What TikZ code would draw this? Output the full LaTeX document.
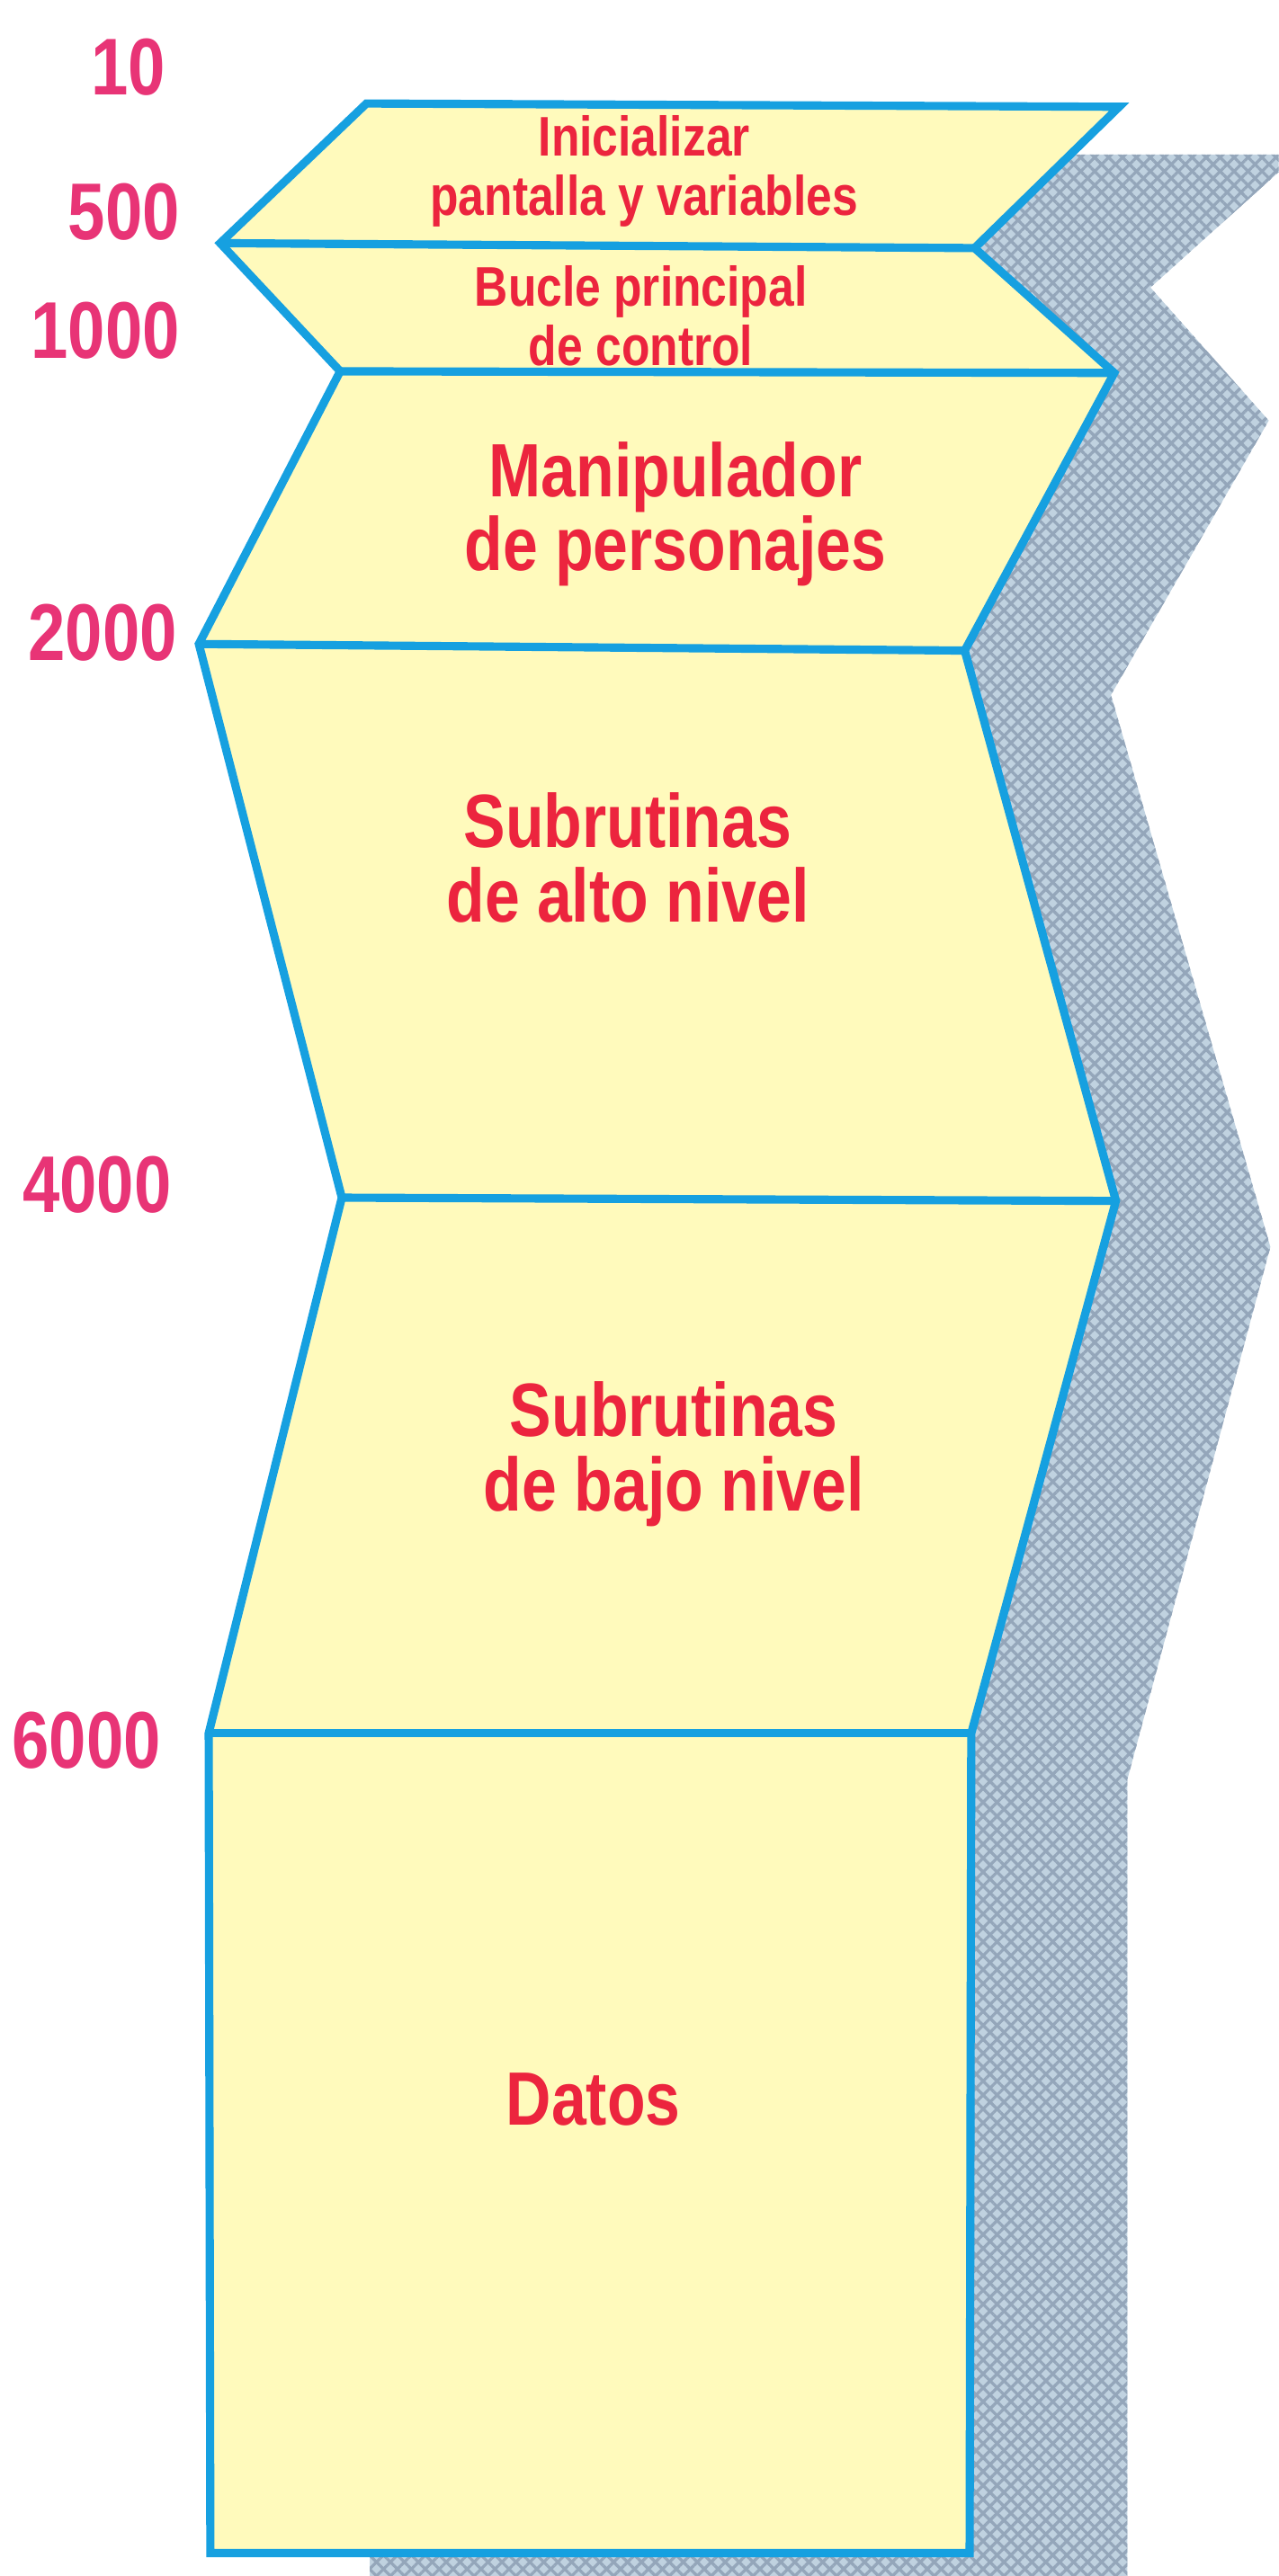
\documentclass[tikz,border=0pt]{standalone}
\usepackage{fontspec}
\newfontfamily\condf{Liberation Sans}[FakeStretch=0.83]
\usetikzlibrary{patterns.meta}
\definecolor{digitpink}{RGB}{232,52,118}
\definecolor{txtred}{RGB}{236,36,62}
\definecolor{edgeblue}{RGB}{22,160,224}
\definecolor{paper}{RGB}{255,250,188}
\definecolor{shadowbase}{RGB}{192,210,224}
\definecolor{shadowline}{RGB}{148,166,186}
\tikzset{
  digit/.style={text=digitpink, font={\condf\bfseries\fontsize{49}{55}\selectfont}, inner sep=0pt, anchor=base east},
  bigtxt/.style={text=txtred, font={\condf\bfseries\fontsize{46}{45}\selectfont}, align=center, inner sep=0pt, anchor=base},
  smalltxt/.style={text=txtred, font={\condf\bfseries\fontsize{34}{36}\selectfont}, align=center, inner sep=0pt, anchor=base},
  outline/.style={draw=edgeblue, line width=5pt, line join=miter},
  divider/.style={draw=edgeblue, line width=5pt, line cap=butt},
  shadowfill/.style={fill=shadowbase,
    postaction={pattern={Lines[angle=45,distance=6pt,line width=1.8pt]}, pattern color=shadowline},
    postaction={pattern={Lines[angle=-45,distance=6pt,line width=1.8pt]}, pattern color=shadowline}}
}
\begin{document}
\begin{tikzpicture}[x=1pt, y=-1pt]
\useasboundingbox (0,0) rectangle (778,1568);
% vertices of the stack
\coordinate (L0) at (223,63);
\coordinate (L1) at (134,148);
\coordinate (L2) at (207,226);
\coordinate (L3) at (121,392);
\coordinate (L4) at (208,729);
\coordinate (L5) at (127,1055);
\coordinate (L6) at (128,1554);
\coordinate (R0) at (681,65);
\coordinate (R1) at (593,151);
\coordinate (R2) at (678,227);
\coordinate (R3) at (587,396);
\coordinate (R4) at (679,731);
\coordinate (R5) at (591,1055);
\coordinate (R6) at (590,1554);
% shadow
\begin{scope}
\clip (0,0) rectangle (778,1568);
\path[shadowfill] (300,94) -- (790,94) -- (700,175) -- (772,256) -- (676,423)
  -- (773,759) -- (686,1083) -- (686,1590) -- (225,1590) -- (225,1500) -- (300,1500) -- cycle;
\end{scope}
% body
\path[outline, fill=paper] (L0) -- (R0) -- (R1) -- (R2) -- (R3) -- (R4) -- (R5) -- (R6)
  -- (L6) -- (L5) -- (L4) -- (L3) -- (L2) -- (L1) -- cycle;
\draw[divider] (L1) -- (R1);
\draw[divider] (L2) -- (R2);
\draw[divider] (L3) -- (R3);
\draw[divider] (L4) -- (R4);
\draw[divider] (L5) -- (R5);
% address labels
\node[digit] (n10) at (101,58) {10};
\node[digit] (n500) at (109.5,146) {500};
\node[digit] (n1000) at (109.5,218) {1000};
\node[digit] (n2000) at (108,402) {2000};
\node[digit] (n4000) at (104.5,738) {4000};
\node[digit] (n6000) at (98,1076) {6000};
% block texts (anchor base = baseline of the last line)
\node[smalltxt] (init) at (392,131) {Inicializar\\pantalla y variables};
\node[smalltxt] (bucle) at (390,222.5) {Bucle principal\\de control};
\node[bigtxt] (manip) at (411,347.5) {Manipulador\\de personajes};
\node[bigtxt] (alto) at (382,561) {Subrutinas\\de alto nivel};
\node[bigtxt] (bajo) at (410,919.5) {Subrutinas\\de bajo nivel};
\node[bigtxt] (datos) at (361,1293.5) {Datos};
\end{tikzpicture}
\end{document}
